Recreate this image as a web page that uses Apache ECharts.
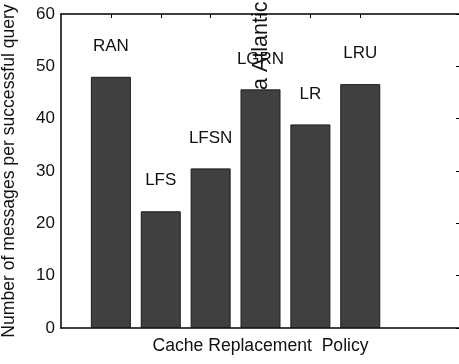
<!DOCTYPE html>
<html>
<head>
<meta charset="utf-8">
<script src="https://cdn.jsdelivr.net/npm/echarts@6/dist/echarts.min.js"></script>
<style>html,body{margin:0;padding:0;background:#fff;}#c{width:459px;height:364px;}</style>
</head>
<body>
<div id="c"></div>
<script>
var categories = ['RAN', 'LFS', 'LFSN', 'LGRN', 'LR', 'LRU'];
var values = [48.0, 22.3, 30.5, 45.6, 38.9, 46.6];
var positions = [1, 2, 3, 4, 5, 6];
var yTicks = [0, 10, 20, 30, 40, 50, 60];

var F = '"Liberation Sans", Arial, Helvetica, sans-serif';
var chart = echarts.init(document.getElementById('c'), null, {renderer: 'canvas'});
var data = values.map(function (v, i) { return [positions[i], v]; });
chart.setOption({
  animation: false,
  backgroundColor: '#fff',
  grid: {left: 61, top: 14, width: 399, height: 314, containLabel: false, outerBoundsMode: 'none'},
  xAxis: [{
    type: 'value', min: 0, max: 8, interval: 1, position: 'bottom',
    name: 'Cache Replacement  Policy', nameLocation: 'middle', nameGap: 9,
    nameTextStyle: {fontFamily: F, fontSize: 17.6, color: '#111'},
    axisLine: {onZero: false, lineStyle: {color: '#000', width: 1.5}},
    axisTick: {inside: true, length: 4, customValues: positions, lineStyle: {color: '#000'}},
    axisLabel: {show: false}, splitLine: {show: false}
  }, {
    type: 'value', min: 0, max: 8, interval: 1, position: 'top',
    axisLine: {show: true, onZero: false, lineStyle: {color: '#000', width: 1.5}},
    axisTick: {inside: true, length: 4, customValues: positions, lineStyle: {color: '#000'}},
    axisLabel: {show: false}, splitLine: {show: false}
  }],
  yAxis: [{
    type: 'value', min: 0, max: 60, interval: 10, position: 'left',
    name: 'Number of messages per successful query', nameLocation: 'middle', nameGap: 43,
    nameTextStyle: {fontFamily: F, fontSize: 17.6, color: '#111'},
    axisLine: {show: true, onZero: false, lineStyle: {color: '#000', width: 1.5}},
    axisTick: {show: false},
    axisLabel: {fontFamily: F, fontSize: 17, color: '#111', margin: 6,
      customValues: yTicks},
    splitLine: {show: false}
  }, {
    type: 'value', min: 0, max: 60, interval: 10, position: 'right',
    axisLine: {show: true, onZero: false, lineStyle: {color: '#000', width: 1.5}},
    axisTick: {show: true, inside: true, length: 4, lineStyle: {color: '#000'}},
    axisLabel: {show: false}, splitLine: {show: false}
  }],
  series: [{
    type: 'bar', xAxisIndex: 0, yAxisIndex: 0, data: data, barWidth: 40,
    itemStyle: {color: '#404040', borderColor: '#1a1a1a', borderWidth: 1},
    label: {show: true, position: 'top', distance: 22, fontFamily: F, fontSize: 17, color: '#111',
      formatter: function (p) { return categories[p.dataIndex]; }}
  }],
  graphic: [{
    type: 'text', x: 261, y: 90, rotation: Math.PI / 2,
    style: {text: 'a Atlantic', fontFamily: F, fontSize: 21.5, fill: '#111',
      textAlign: 'left', textVerticalAlign: 'middle'}
  }]
});
</script>
</body>
</html>
